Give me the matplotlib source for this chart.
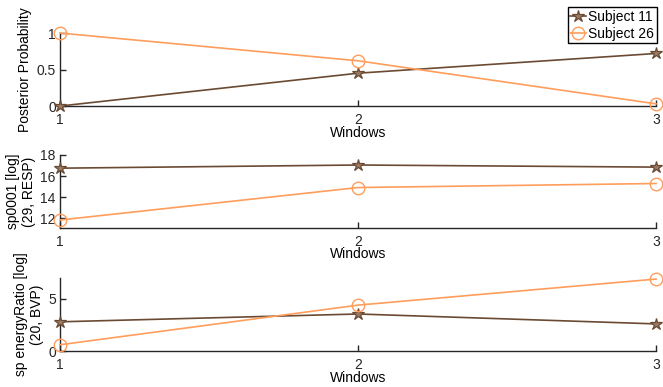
import numpy as np
import matplotlib.pyplot as plt

plt.rcParams['font.family'] = ['Liberation Sans', 'DejaVu Sans']
plt.rcParams['font.size'] = 10

windows = [1, 2, 3]

# posterior probability per window
post_s11 = [0.0, 0.45, 0.72]
post_s26 = [1.0, 0.62, 0.03]

# feature sp0001 [log] (29, RESP)
sp0001_s11 = [16.75, 17.05, 16.85]
sp0001_s26 = [11.85, 14.92, 15.3]

# feature sp energyRatio [log] (20, BVP)
energy_s11 = [2.8, 3.55, 2.6]
energy_s26 = [0.6, 4.4, 6.9]

BROWN = '#6b4a33'
ORANGE = '#ff9d5c'

panels = [
    (post_s11, post_s26, 'Posterior Probability', (0, 1), [0, 0.5, 1], ['0', '0.5', '1']),
    (sp0001_s11, sp0001_s26, 'sp0001 [log]\n(29, RESP)', (11.1, 18), [12, 14, 16, 18], None),
    (energy_s11, energy_s26, 'sp energyRatio [log]\n(20, BVP)', (0, 7), [0, 5], None),
]
bottoms = [0.726, 0.411, 0.093]

fig = plt.figure(figsize=(6.63, 3.87), dpi=100)

for (s11, s26, ylab, ylim, yt, ytl), b in zip(panels, bottoms):
    ax = fig.add_axes([0.0905, b, 0.899, 0.1886])
    l1, = ax.plot(windows, s11, color=BROWN, lw=1.2, marker='*', ms=9,
                  mfc='#9a7a62', mec=BROWN, mew=0.9, clip_on=False, zorder=3,
                  label='Subject 11')
    l2, = ax.plot(windows, s26, color=ORANGE, lw=1.2, marker='o', ms=9,
                  mfc='none', mec=ORANGE, mew=1.0, clip_on=False, zorder=3,
                  label='Subject 26')
    ax.set_xlim(1, 3)
    ax.set_ylim(*ylim)
    ax.set_xticks(windows)
    ax.set_yticks(yt)
    if ytl:
        ax.set_yticklabels(ytl)
    ax.set_xlabel('Windows', labelpad=-1)
    ax.set_ylabel(ylab, linespacing=1.2, labelpad=3)
    for side in ['top', 'right']:
        ax.spines[side].set_visible(False)
    for side in ['left', 'bottom']:
        ax.spines[side].set_color('#262626')
        ax.spines[side].set_linewidth(1.0)
    ax.tick_params(direction='in', length=4, width=1.0, color='#262626',
                   labelcolor='#262626')
    ax.tick_params(axis='x', pad=5)
    ax.tick_params(axis='y', pad=3)

fig.legend(handles=[l1, l2], loc='upper right', bbox_to_anchor=(0.991, 0.982),
           frameon=True, fancybox=False, edgecolor='black', framealpha=1,
           handlelength=1.15, handletextpad=0.15, borderpad=0.2, labelspacing=0.2,
           borderaxespad=0, fontsize=10)

fig.savefig('out.png', dpi=100)
